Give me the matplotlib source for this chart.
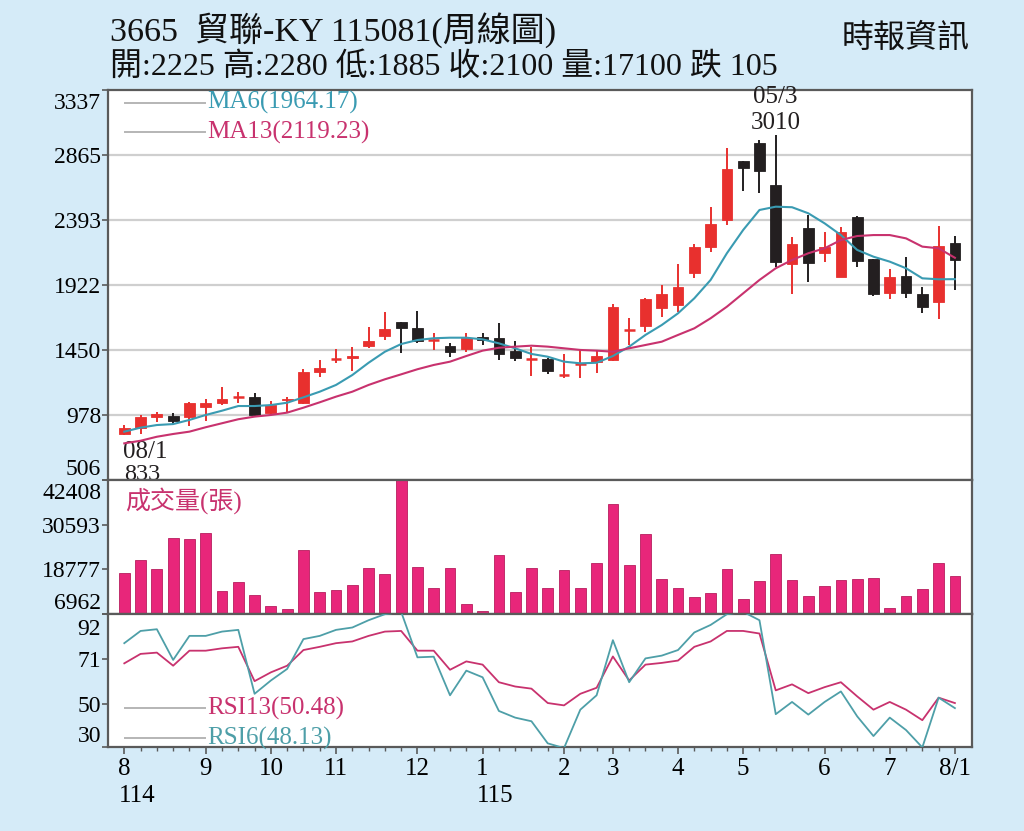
import matplotlib
matplotlib.use("Agg")
import matplotlib.pyplot as plt
from matplotlib.patches import Rectangle
from matplotlib.transforms import ScaledTranslation
import numpy as np

plt.rcParams['font.family'] = ['Liberation Serif', 'Noto Sans CJK TC', 'DejaVu Sans']

# ---------------- data (weekly) ----------------
opens = [840, 881, 966, 971, 966, 1038, 1067, 1111, 1111, 995,
         1085, 1067, 1288, 1384, 1389, 1479, 1554, 1651, 1607, 1518,
         1481, 1457, 1546, 1535, 1445, 1380, 1384, 1266, 1350, 1365,
         1377, 1595, 1624, 1752, 1776, 2011, 2200, 2393, 2819, 2954,
         2647, 2072, 2337, 2152, 1982, 2417, 2110, 1861, 1987, 1856,
         1800, 2225]
highs = [905, 978, 1002, 990, 1074, 1094, 1179, 1143, 1135, 1082,
         1111, 1310, 1377, 1457, 1474, 1619, 1728, 1651, 1735, 1575,
         1503, 1571, 1571, 1643, 1517, 1474, 1390, 1421, 1450, 1450,
         1784, 1680, 1825, 1922, 2074, 2219, 2486, 2914, 2825, 2974,
         3010, 2272, 2430, 2308, 2345, 2424, 2110, 2035, 2127, 1909,
         2352, 2280]
lows = [833, 840, 929, 912, 900, 937, 1050, 1067, 966, 985,
        1002, 1058, 1256, 1353, 1299, 1462, 1522, 1426, 1498, 1450,
        1401, 1437, 1486, 1377, 1370, 1263, 1275, 1244, 1244, 1281,
        1372, 1486, 1583, 1691, 1728, 1975, 2159, 2357, 2606, 2587,
        2054, 1856, 1946, 2091, 1978, 2054, 1842, 1818, 1825, 1720,
        1675, 1885]
closes = [880, 966, 983, 937, 1067, 1067, 1094, 1111, 978, 1050,
          1095, 1292, 1321, 1384, 1406, 1515, 1600, 1607, 1517, 1524,
          1437, 1535, 1522, 1421, 1394, 1384, 1299, 1273, 1353, 1406,
          1764, 1595, 1820, 1854, 1909, 2200, 2362, 2764, 2769, 2751,
          2091, 2219, 2083, 2195, 2308, 2098, 1854, 1982, 1866, 1764,
          2205, 2100]
ma6 = [857, 886, 905, 912, 942, 978, 1009, 1043, 1043, 1050,
       1067, 1106, 1147, 1196, 1268, 1357, 1437, 1493, 1522, 1535,
       1539, 1539, 1527, 1498, 1462, 1421, 1401, 1365, 1353, 1357,
       1406, 1474, 1559, 1631, 1716, 1825, 1958, 2152, 2321, 2466,
       2490, 2486, 2442, 2369, 2284, 2176, 2127, 2091, 2043, 1970,
       1963, 1964]
ma13 = [772, 791, 820, 840, 857, 889, 918, 947, 966, 978,
        995, 1031, 1070, 1111, 1147, 1196, 1237, 1273, 1310, 1341,
        1365, 1406, 1445, 1466, 1474, 1481, 1474, 1462, 1450, 1445,
        1437, 1462, 1486, 1510, 1559, 1607, 1680, 1764, 1861, 1958,
        2043, 2103, 2152, 2188, 2248, 2277, 2284, 2284, 2260, 2200,
        2188, 2119]
volume = [17889, 21273, 18768, 27029, 26683, 28362, 13171, 15410, 11946, 9014,
          8295, 23938, 12905, 13278, 14691, 19034, 17542, 42408, 19488, 13891,
          19221, 9627, 7682, 22606, 12905, 19034, 13891, 18501, 13971, 20367,
          36090, 19834, 28095, 16210, 13891, 11493, 12479, 18768, 10960, 15570,
          22765, 15836, 11759, 14424, 15943, 16290, 16369, 8561, 11839, 13704,
          20367, 17100]
rsi6 = [78.4, 84.1, 84.9, 70.6, 81.8, 81.8, 83.8, 84.6, 54.8, 61.0,
        66.4, 80.3, 81.8, 84.6, 85.7, 89.1, 91.9, 93.0, 71.8, 72.1,
        54.1, 65.6, 62.5, 46.8, 43.7, 42.0, 31.7, 29.5, 47.4, 54.1,
        79.8, 60.2, 71.3, 72.6, 75.2, 83.4, 86.9, 91.9, 93.0, 89.1,
        45.3, 51.0, 45.1, 51.0, 55.9, 44.3, 35.1, 43.7, 37.9, 29.8,
        53.0, 48.13]
rsi13 = [69.0, 73.4, 74.0, 67.9, 74.9, 74.9, 76.0, 76.7, 60.7, 64.8,
         67.9, 75.2, 76.7, 78.4, 79.2, 81.8, 83.8, 84.1, 74.9, 74.9,
         66.0, 69.9, 68.4, 60.2, 58.2, 57.2, 50.5, 49.4, 54.8, 57.6,
         72.2, 61.0, 68.4, 69.2, 70.3, 76.7, 79.2, 84.1, 84.1, 82.9,
         56.4, 59.2, 55.1, 57.9, 60.2, 53.6, 47.4, 51.0, 47.4, 42.5,
         53.0, 50.48]

month_pos = [0, 5, 9, 13, 18, 22, 27, 30, 34, 38, 43, 47, 51]
month_labels = ['8', '9', '10', '11', '12', '1', '2', '3', '4', '5', '6', '7', '8/1']
year_pos = [0, 22]
year_labels = ['114', '115']

price_ticks = [506, 978, 1450, 1922, 2393, 2865, 3337]
vol_ticks = [6962, 18777, 30593, 42408]
rsi_ticks = [30, 50, 71, 92]

title = '3665  貿聯-KY 115081(周線圖)'
subtitle = '開:2225 高:2280 低:1885 收:2100 量:17100 跌 105'
source = '時報資訊'

# ---------------- style ----------------
BG = '#d5ebf8'
RED = '#e8302e'
BLACK = '#231f20'
PINK = '#e8267a'
TEAL = '#3a9bb2'
MAG = '#c8326e'
RSI6C = '#4e9fa8'
GRID = '#cfcfcf'
FRAME = '#5a5a5a'
FS = 17
LFS = 18

W, H = 1024, 831
fig = plt.figure(figsize=(W / 100, H / 100), dpi=100, facecolor=BG)

def frac_rect(x0, y0, x1, y1):
    return [x0 / W, 1 - y1 / H, (x1 - x0) / W, (y1 - y0) / H]

L, R = 108, 972
ax1 = fig.add_axes(frac_rect(L, 90, R, 480))
ax2 = fig.add_axes(frac_rect(L, 480, R, 614), sharex=ax1)
ax3 = fig.add_axes(frac_rect(L, 614, R, 747), sharex=ax1)

x = np.arange(len(closes))
for ax in (ax1, ax2, ax3):
    ax.set_facecolor('white')
    for s in ax.spines.values():
        s.set_color(FRAME)
        s.set_linewidth(1.6)
    ax.tick_params(axis='y', direction='out', length=4, width=1.2, color=FRAME,
                   labelsize=FS, pad=1)
    ax.set_xlim(-1, 52.05)

def shift_label(lab, dy_px):
    lab.set_transform(lab.get_transform() + ScaledTranslation(0, -dy_px / 100, fig.dpi_scale_trans))

# ---- price panel ----
ax1.set_ylim(506, 3337)
for g in price_ticks[1:-1]:
    ax1.axhline(g, color=GRID, lw=1.6, zorder=0)
bw = 0.66
for i in range(len(closes)):
    o, h, l, c = opens[i], highs[i], lows[i], closes[i]
    col = RED if c >= o else BLACK
    ax1.vlines(i, l, h, color=col, lw=1.4, zorder=2)
    lo, hi = min(o, c), max(o, c)
    if hi - lo < 8:
        ax1.hlines((o + c) / 2, i - bw / 2, i + bw / 2, color=col, lw=1.8, zorder=3)
    else:
        ax1.add_patch(Rectangle((i - bw / 2, lo), bw, hi - lo, facecolor=col,
                                edgecolor=col, lw=0.6, zorder=3))
ax1.plot(x, ma6, color=TEAL, lw=1.5, zorder=4)
ax1.plot(x, ma13, color=MAG, lw=1.5, zorder=4)
ax1.set_yticks(price_ticks)
ax1.set_yticklabels([str(t) for t in price_ticks])
ylabs = ax1.get_yticklabels()
ylabs[0].set_va('bottom')
ylabs[-1].set_va('top')
shift_label(ylabs[-1], 3)

# legend-like labels
for yf, txt, c in [(0.967, 'MA6(1964.17)', TEAL), (0.892, 'MA13(2119.23)', MAG)]:
    ax1.plot([0.0197, 0.1123], [yf, yf], transform=ax1.transAxes, color='#b5b5b5', lw=1.4)
    ax1.text(0.1146, yf, txt, transform=ax1.transAxes, color=c, fontsize=LFS,
             va='center', ha='left')

# annotations
imax = int(np.argmax(highs))
ax1.annotate('3010', xy=(imax, highs[imax]), xytext=(0, 1), textcoords='offset points',
             ha='center', va='bottom', fontsize=LFS, color=BLACK)
ax1.annotate('05/3', xy=(imax, highs[imax]), xytext=(0, 19.5), textcoords='offset points',
             ha='center', va='bottom', fontsize=LFS, color=BLACK)
imin = int(np.argmin(lows))
ax1.annotate('08/1', xy=(imin, lows[imin]), xytext=(-1, -4), textcoords='offset points',
             ha='left', va='top', fontsize=LFS, color=BLACK)
ax1.annotate('833', xy=(imin, lows[imin]), xytext=(0, -21), textcoords='offset points',
             ha='left', va='top', fontsize=LFS - 0.5, color=BLACK)

# ---- volume panel ----
vbase = vol_ticks[0]
ax2.set_ylim(vbase, vol_ticks[-1])
ax2.bar(x, np.array(volume) - vbase, bottom=vbase, width=0.66, color=PINK,
        edgecolor='#b81e5e', lw=0.6, zorder=2)
ax2.set_yticks(vol_ticks)
ax2.set_yticklabels([str(t) for t in vol_ticks])
vl = ax2.get_yticklabels()
vl[0].set_va('bottom')
vl[-1].set_va('top')
shift_label(vl[-1], 3)
ax2.text(0.0197, 0.85, '成交量(張)', transform=ax2.transAxes, color=MAG,
         fontsize=LFS, va='center', ha='left',
         family=['Liberation Serif', 'Noto Sans CJK TC'])

# ---- RSI panel ----
ax3.set_ylim(30, 92)
ax3.plot(x, rsi13, color=MAG, lw=1.3, zorder=3)
ax3.plot(x, rsi6, color=RSI6C, lw=1.3, zorder=3)
ax3.set_yticks(rsi_ticks)
ax3.set_yticklabels([str(t) for t in rsi_ticks])
rl = ax3.get_yticklabels()
rl[0].set_va('bottom')
rl[-1].set_va('top')
shift_label(rl[-1], 5)
for yf, txt, c in [(0.293, 'RSI13(50.48)', MAG), (0.068, 'RSI6(48.13)', RSI6C)]:
    ax3.plot([0.0197, 0.1123], [yf, yf], transform=ax3.transAxes, color='#b5b5b5', lw=1.4)
    ax3.text(0.1146, yf, txt, transform=ax3.transAxes, color=c, fontsize=LFS,
             va='center', ha='left')

# x axis
for ax in (ax1, ax2):
    ax.tick_params(axis='x', which='both', bottom=False, labelbottom=False)
ax3.set_xticks(month_pos)
ax3.set_xticklabels(month_labels)
ax3.set_xticks(x, minor=True)
ax3.tick_params(axis='x', which='major', direction='out', length=5, width=1.2,
                color=FRAME, labelsize=LFS, pad=3)
ax3.tick_params(axis='x', which='minor', direction='out', length=3, width=1.0,
                color=FRAME)
for p, lab in zip(year_pos, year_labels):
    ax3.annotate(lab, xy=(p, 0), xycoords=('data', 'axes fraction'),
                 xytext=(-4, -27), textcoords='offset points', ha='left', va='top',
                 fontsize=LFS)

# header
fig.text(110 / W, 1 - 30 / H, title, fontsize=24.5, ha='left', va='center', color='#111111')
fig.text(110 / W, 1 - 67 / H, subtitle, fontsize=23, ha='left', va='center', color='#111111')
fig.text(970 / W, 1 - 38 / H, source, fontsize=23, ha='right', va='center', color='#111111',
         family=['Noto Sans CJK TC'])

fig.savefig('out.png', dpi=100, facecolor=BG)
